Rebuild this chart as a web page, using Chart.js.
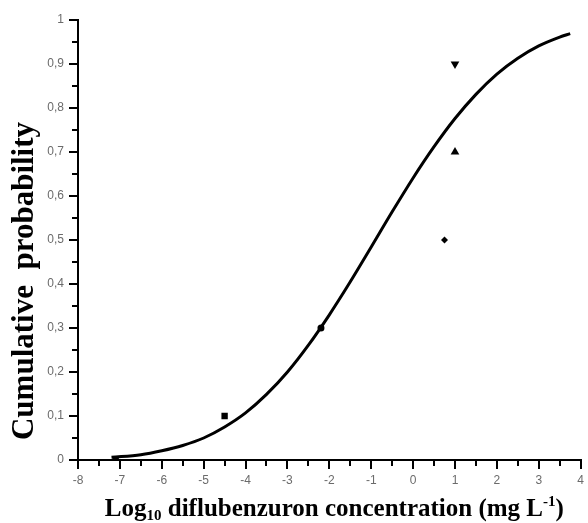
<!DOCTYPE html>
<html>
<head>
<meta charset="utf-8">
<title>Cumulative probability - diflubenzuron</title>
<script src="https://cdn.jsdelivr.net/npm/chart.js@4.4.1/dist/chart.umd.min.js"></script>
<style>
    html, body { margin: 0; padding: 0; background: #fff; }
    #wrap { width: 588px; height: 523px; position: relative; }
</style>
</head>
<body>
<div id="wrap"><canvas id="sensChart"></canvas></div>
<script>
// ────────────────────────────────────────────────
// Data
// ────────────────────────────────────────────────
const curveX = [-7.2, -6.5, -6, -5.5, -5, -4.5, -4, -3.5, -3, -2.5, -2, -1.5, -1,
                -0.5, 0, 0.5, 1, 1.5, 2, 2.5, 3, 3.5, 3.75];
const curveY = [0.006, 0.012, 0.021, 0.033, 0.05, 0.075, 0.107, 0.149, 0.2, 0.261, 0.33, 0.405, 0.484,
                0.564, 0.641, 0.712, 0.776, 0.831, 0.877, 0.913, 0.941, 0.961, 0.969];

const obsX       = [-7.1, -4.5, -2.2, 0.75, 1.0, 1.0];
const obsY       = [0.0, 0.1, 0.3, 0.5, 0.7, 0.9];
const obsMarkers = ['rect', 'rect', 'circle', 'rectRot', 'triangle', 'triangle'];
const obsTurn    = [0, 0, 0, 0, 0, 180];
const obsSize    = [4.5, 4.5, 3.5, 3.5, 5, 5];

const xTickLabels = ['-8', '-7', '-6', '-5', '-4', '-3', '-2', '-1', '0', '1', '2', '3', '4'];
const yTickLabels = ['0', '0,1', '0,2', '0,3', '0,4', '0,5', '0,6', '0,7', '0,8', '0,9', '1'];

const SERIF = '"Liberation Serif", "Times New Roman", serif';
const SANS  = '"Liberation Sans", Arial, sans-serif';

// ────────────────────────────────────────────────
// Plugin: minor ticks + axis titles (with sub/superscripts)
// ────────────────────────────────────────────────
const axisDecor = {
    id: 'axisDecor',
    afterDraw(chart) {
        const { ctx, chartArea: area, scales: { x, y } } = chart;
        ctx.save();
        ctx.strokeStyle = '#000';
        ctx.lineWidth = 2;

        // minor ticks, half way between the labelled ones
        ctx.beginPath();
        for (let i = 0; i < xTickLabels.length - 1; i++) {
            const px = Math.round(x.getPixelForValue(Number(xTickLabels[i]) + 0.5));
            ctx.moveTo(px, area.bottom);
            ctx.lineTo(px, area.bottom + 6);
        }
        for (let i = 0; i < yTickLabels.length - 1; i++) {
            const py = Math.round(y.getPixelForValue(i / 10 + 0.05));
            ctx.moveTo(area.left, py);
            ctx.lineTo(area.left - 6, py);
        }
        ctx.stroke();

        ctx.fillStyle = '#000';
        ctx.textBaseline = 'alphabetic';

        // y title, rotated
        ctx.save();
        ctx.translate(33, 281);
        ctx.rotate(-Math.PI / 2);
        ctx.font = `bold 31px ${SERIF}`;
        ctx.textAlign = 'center';
        ctx.fillText('Cumulative  probability', 0, 0);
        ctx.restore();

        // x title: Log10 ... (mg L-1)
        const big = `bold 25px ${SERIF}`;
        const small = `bold 15px ${SERIF}`;
        const parts = [
            { t: 'Log', f: big, dy: 0 },
            { t: '10', f: small, dy: 4 },
            { t: ' diflubenzuron concentration (mg L', f: big, dy: 0 },
            { t: '-1', f: small, dy: -10 },
            { t: ')', f: big, dy: 0 }
        ];
        let total = 0;
        parts.forEach(p => { ctx.font = p.f; p.w = ctx.measureText(p.t).width; total += p.w; });
        let cx = (area.left + area.right) / 2 + 5 - total / 2;
        ctx.textAlign = 'left';
        parts.forEach(p => {
            ctx.font = p.f;
            ctx.fillText(p.t, cx, 516 + p.dy);
            cx += p.w;
        });

        ctx.restore();
    }
};

// ────────────────────────────────────────────────
// Chart
// ────────────────────────────────────────────────
const ctx = document.getElementById('sensChart').getContext('2d');

new Chart(ctx, {
    type: 'scatter',
    data: {
        datasets: [
            {
                label: 'Observed',
                data: obsX.map((v, i) => ({ x: v, y: obsY[i] })),
                pointStyle: obsMarkers,
                rotation: obsTurn,
                pointRadius: obsSize,
                backgroundColor: '#000',
                borderColor: '#000',
                borderWidth: 0,
                order: 1
            },
            {
                label: 'Fitted',
                data: curveX.map((v, i) => ({ x: v, y: curveY[i] })),
                showLine: true,
                borderColor: '#000',
                borderWidth: 3,
                pointRadius: 0,
                cubicInterpolationMode: 'monotone',
                order: 2
            }
        ]
    },
    options: {
        responsive: true,
        maintainAspectRatio: false,
        animation: false,
        layout: { padding: { left: 0, top: 20, right: 3, bottom: 0 } },
        plugins: {
            legend: { display: false },
            tooltip: { enabled: false }
        },
        scales: {
            x: {
                type: 'linear',
                min: -8,
                max: 4,
                afterFit: scale => { scale.height = 63; },
                afterBuildTicks: scale => {
                    scale.ticks = xTickLabels.map(v => ({ value: Number(v) }));
                },
                ticks: {
                    callback: (value, i) => xTickLabels[i],
                    color: '#6b6b6b',
                    font: { family: SANS, size: 12 },
                    padding: 4,
                    maxRotation: 0
                },
                grid: {
                    drawOnChartArea: false,
                    color: '#000',
                    lineWidth: 2,
                    tickLength: 9
                },
                border: { color: '#000', width: 2 }
            },
            y: {
                type: 'linear',
                min: 0,
                max: 1,
                afterFit: scale => { scale.width = 78; },
                afterBuildTicks: scale => {
                    scale.ticks = yTickLabels.map((_, i) => ({ value: i / 10 }));
                },
                ticks: {
                    callback: (value, i) => yTickLabels[i],
                    color: '#6b6b6b',
                    font: { family: SANS, size: 12 },
                    padding: 5
                },
                grid: {
                    drawOnChartArea: false,
                    color: '#000',
                    lineWidth: 2,
                    tickLength: 9
                },
                border: { color: '#000', width: 2 }
            }
        }
    },
    plugins: [axisDecor]
});
</script>
</body>
</html>
